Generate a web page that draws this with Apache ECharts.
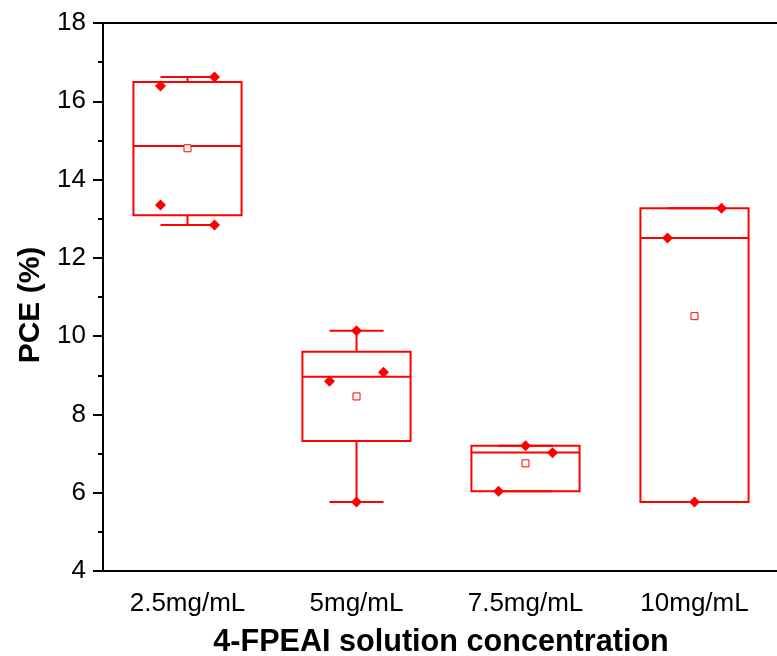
<!DOCTYPE html>
<html><head><meta charset="utf-8">
<script src="https://cdn.jsdelivr.net/npm/echarts@6/dist/echarts.min.js"></script>
<style>html,body{margin:0;padding:0;background:#fff}#c{width:777px;height:656px}</style>
</head><body><div id="c"></div>
<script>
const categories = ['2.5mg/mL', '5mg/mL', '7.5mg/mL', '10mg/mL'];
// [whisker low, Q1, median, Q3, whisker high]
const stats25 = [12.84, 13.09, 14.86, 16.49, 16.62];
const stats5 = [5.76, 7.32, 8.96, 9.60, 10.14];
const stats75 = [6.04, 6.04, 7.03, 7.20, 7.20];
const stats10 = [5.76, 5.76, 12.51, 13.27, 13.27];
const means = [14.80, 8.46, 6.75, 10.51];
const pts25 = [16.39, 16.62, 13.35, 12.84];
const pts5 = [8.85, 9.08, 10.14, 5.76];
const pts75 = [7.20, 7.02, 6.04];
const pts10 = [13.27, 12.51, 5.76];
// jitter slot of each point: -1 left, 0 centre, 1 right
const jitter25 = [-1, 1, -1, 1];
const jitter5 = [-1, 1, 0, 0];
const jitter75 = [0, 1, -1];
const jitter10 = [1, -1, 0];
const yTicks = {min: 4, max: 18, step: 2};

const RED = '#ff0000';
const FONT = "'Liberation Sans', Arial, sans-serif";
const allStats = [stats25, stats5, stats75, stats10];
const allPts = [pts25, pts5, pts75, pts10];
const allJit = [jitter25, jitter5, jitter75, jitter10];

const boxData = allStats.map((s, i) => [i].concat(s));
const ptData = [];
allPts.forEach((arr, i) => arr.forEach((v, k) => {
  ptData.push({value: [i, v], symbolOffset: [allJit[i][k] * 27, 0]});
}));
const meanData = means.map((v, i) => [i, v]);

function renderBox(params, api) {
  const i = api.value(0);
  const band = api.size([1, 0])[0];
  const bw = band * 0.64 / 2, cw = band * 0.32 / 2;
  const pLo = api.coord([i, api.value(1)]);
  const pQ1 = api.coord([i, api.value(2)]);
  const pMed = api.coord([i, api.value(3)]);
  const pQ3 = api.coord([i, api.value(4)]);
  const pHi = api.coord([i, api.value(5)]);
  const x = pMed[0];
  const st = {stroke: RED, lineWidth: 2, fill: null};
  const ln = (x1, y1, x2, y2) => ({type: 'line', shape: {x1, y1, x2, y2}, style: st});
  return {type: 'group', children: [
    ln(x, pQ3[1], x, pHi[1]),
    ln(x, pQ1[1], x, pLo[1]),
    ln(x - cw, pHi[1], x + cw, pHi[1]),
    ln(x - cw, pLo[1], x + cw, pLo[1]),
    {type: 'rect', shape: {x: x - bw, y: pQ3[1], width: bw * 2, height: pQ1[1] - pQ3[1]}, style: st},
    ln(x - bw, pMed[1], x + bw, pMed[1])
  ]};
}

const chart = echarts.init(document.getElementById('c'), null, {renderer: 'canvas'});
chart.setOption({
  animation: false,
  backgroundColor: '#fff',
  grid: {left: 103, top: 23, width: 676, height: 548, show: false, containLabel: false, outerBoundsMode: 'none'},
  xAxis: [{
    type: 'category', data: categories, boundaryGap: true,
    name: '4-FPEAI solution concentration', nameLocation: 'middle', nameGap: 56,
    nameTextStyle: {fontFamily: FONT, fontSize: 30.6, fontWeight: 'bold', color: '#000'},
    axisLine: {lineStyle: {color: '#000', width: 2}},
    axisTick: {alignWithLabel: true, inside: false, length: 10, lineStyle: {color: '#000', width: 2}},
    axisLabel: {fontFamily: FONT, fontSize: 26, color: '#000', margin: 20},
    splitLine: {show: false}
  }, {
    type: 'category', data: categories, position: 'top',
    axisLine: {show: true, lineStyle: {color: '#000', width: 2}},
    axisTick: {show: false}, axisLabel: {show: false}, splitLine: {show: false}
  }],
  yAxis: {
    type: 'value', min: yTicks.min, max: yTicks.max, interval: yTicks.step,
    name: 'PCE (%)', nameLocation: 'middle', nameGap: 57,
    nameTextStyle: {fontFamily: FONT, fontSize: 30, fontWeight: 'bold', color: '#000', padding: [0, 16, 0, 0]},
    axisLine: {show: true, lineStyle: {color: '#000', width: 2}},
    axisTick: {show: true, inside: false, length: 10, lineStyle: {color: '#000', width: 2}},
    minorTick: {show: true, splitNumber: 2, length: 5, lineStyle: {color: '#000', width: 2}},
    axisLabel: {fontFamily: FONT, fontSize: 26, color: '#000', margin: 17},
    splitLine: {show: false}, minorSplitLine: {show: false}
  },
  series: [
    {type: 'custom', renderItem: renderBox, data: boxData, encode: {x: 0, y: [1, 2, 3, 4, 5]}, z: 2},
    {type: 'scatter', data: meanData, symbol: 'rect', symbolSize: 7,
      itemStyle: {color: '#fff', borderColor: RED, borderWidth: 1, opacity: 1}, z: 3},
    {type: 'scatter', data: ptData, symbol: 'diamond', symbolSize: 11,
      itemStyle: {color: RED, opacity: 1}, z: 4}
  ]
});
</script></body></html>
